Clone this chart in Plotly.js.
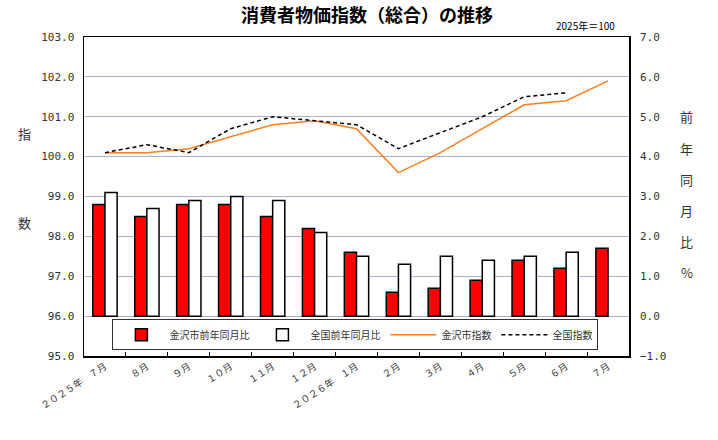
<!DOCTYPE html>
<html>
<head>
<meta charset="utf-8">
<script src="https://cdn.plot.ly/plotly-3.0.1.min.js"></script>
<style>
  html, body { margin: 0; padding: 0; background: #fff; }
  #chart { width: 718px; height: 440px; }
</style>
</head>
<body>
<div id="chart"></div>
<script>
// 月ラベル
const MONTHS = ['２０２５年　７月', '８月', '９月', '１０月', '１１月', '１２月',
  '２０２６年　１月', '２月', '３月', '４月', '５月', '６月', '７月'];

// 前年同月比 (%)
const KANAZAWA_YOY = [2.8, 2.5, 2.8, 2.8, 2.5, 2.2, 1.6, 0.6, 0.7, 0.9, 1.4, 1.2, 1.7];
const NATIONAL_YOY = [3.1, 2.7, 2.9, 3.0, 2.9, 2.1, 1.5, 1.3, 1.5, 1.4, 1.5, 1.6, null];

// 指数 (2025年=100)
const KANAZAWA_IDX = [100.1, 100.1, 100.2, 100.5, 100.8, 100.9, 100.7, 99.6, 100.1, 100.7, 101.3, 101.4, 101.9];
const NATIONAL_IDX = [100.1, 100.3, 100.1, 100.7, 101.0, 100.9, 100.8, 100.2, 100.6, 101.0, 101.5, 101.6, null];

const JP = '"Noto Sans CJK JP", sans-serif';
const MONO = '"DejaVu Sans Mono", monospace';

const traces = [
  {
    x: MONTHS, y: KANAZAWA_YOY, type: 'bar', yaxis: 'y2',
    name: '金沢市前年同月比',
    marker: { color: '#ff0000', line: { color: '#000', width: 1.5 } },
  },
  {
    x: MONTHS, y: NATIONAL_YOY, type: 'bar', yaxis: 'y2',
    name: '全国前年同月比',
    marker: { color: '#ffffff', line: { color: '#000', width: 1.5 } },
  },
  {
    x: MONTHS, y: KANAZAWA_IDX, type: 'scatter', mode: 'lines',
    name: '金沢市指数',
    line: { color: '#ff7f1e', width: 1.5 },
  },
  {
    x: MONTHS, y: NATIONAL_IDX, type: 'scatter', mode: 'lines',
    name: '全国指数',
    line: { color: '#000', width: 1.5, dash: '4px,3px' },
  },
];

// 縦書きの軸タイトル
const annotations = [
  { text: '2025年＝100', x: 585, y: 25, font: { size: 10, family: JP, color: '#000' } },
];
['指', '数'].forEach((ch, i) => annotations.push({
  text: ch, x: 24, y: 133 + i * 90, font: { size: 13, family: JP, color: '#333' },
}));
'前年同月比%'.split('').forEach((ch, i) => annotations.push({
  text: ch, x: 687, y: 117 + i * 31, font: { size: 13, family: JP, color: '#333' },
}));
annotations.forEach(a => Object.assign(a, {
  xref: 'paper', yref: 'paper', showarrow: false,
  xanchor: 'center', yanchor: 'middle',
}));
// ピクセル位置 → paper座標
const M = { l: 84, r: 89, t: 37, b: 84 };
const PW = 718 - M.l - M.r, PH = 440 - M.t - M.b;
annotations.forEach(a => {
  a.x = (a.x - M.l) / PW;
  a.y = (440 - M.b - a.y) / PH;
});

const layout = {
  width: 718, height: 440,
  margin: M,
  paper_bgcolor: '#fff', plot_bgcolor: '#fff',
  font: { family: JP, color: '#333' },
  title: {
    text: '<b>消費者物価指数（総合）の推移</b>',
    font: { size: 18, family: JP, color: '#000' },
    x: 367 / 718, xanchor: 'center', y: 1 - 16 / 440, yanchor: 'middle',
  },
  barmode: 'group', bargap: 0.42, bargroupgap: 0,
  showlegend: true,
  legend: {
    orientation: 'h', x: 0.498, xanchor: 'center', y: 0.018, yanchor: 'bottom',
    bgcolor: '#fff', bordercolor: '#333', borderwidth: 1,
    font: { size: 10, family: JP, color: '#333' },
    itemwidth: 46, traceorder: 'normal',
  },
  xaxis: {
    type: 'category', tickson: 'boundaries', ticks: 'inside', ticklen: 4,
    tickcolor: '#000', tickangle: -33,
    tickfont: { size: 9.5, family: JP, color: '#333' },
    showline: true, linecolor: '#000', linewidth: 1.5, mirror: true,
    showgrid: false, zeroline: false,
  },
  yaxis: {
    range: [95, 103], dtick: 1, tickformat: '.1f',
    showgrid: true, gridcolor: '#a9b0d2', gridwidth: 1,
    ticks: '', ticklabelstandoff: 6,
    tickfont: { size: 11, family: MONO, color: '#333' },
    showline: true, linecolor: '#000', linewidth: 1.5, mirror: true,
    zeroline: false,
  },
  yaxis2: {
    overlaying: 'y', side: 'right',
    range: [-1, 7], dtick: 1, tickformat: '.1f',
    showgrid: false, zeroline: false,
    ticks: '', ticklabelstandoff: 10,
    tickfont: { size: 11, family: MONO, color: '#333' },
  },
  annotations,
};

Plotly.newPlot('chart', traces, layout, { displayModeBar: false, staticPlot: true });
</script>
</body>
</html>
